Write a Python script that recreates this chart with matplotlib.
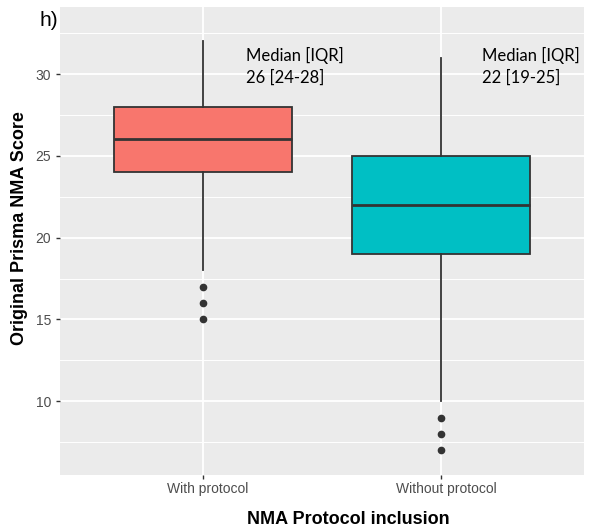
import matplotlib
matplotlib.use("Agg")
import matplotlib.pyplot as plt
import matplotlib.transforms as mtransforms
from matplotlib.ticker import MultipleLocator

# Summary statistics per group (Original Prisma NMA Score)
groups = ["With protocol", "Without protocol"]
medians = [26, 22]
q1 = [24, 19]
q3 = [28, 25]
whisker_low = [18, 10]
whisker_high = [32, 31]
outliers = [[17, 16, 15], [9, 8, 7]]
fill_colors = ["#F8766D", "#00BFC4"]
annotations = ["Median [IQR]\n26 [24-28]", "Median [IQR]\n22 [19-25]"]

fig = plt.figure(figsize=(5.94, 5.31), dpi=100)
fig.patch.set_facecolor("white")
ax = fig.add_axes([0.101, 0.1055, 0.882, 0.8815])
ax.set_facecolor("#EBEBEB")

stats = []
for i, g in enumerate(groups):
    stats.append(dict(label=g, med=medians[i], q1=q1[i], q3=q3[i],
                      whislo=whisker_low[i], whishi=whisker_high[i],
                      fliers=outliers[i]))

bp = ax.bxp(stats, positions=[1, 2], widths=0.75, patch_artist=True,
            showcaps=False, zorder=3,
            boxprops=dict(edgecolor="#333333", linewidth=1.3),
            medianprops=dict(color="#333333", linewidth=2.0),
            whiskerprops=dict(color="#333333", linewidth=1.3),
            flierprops=dict(marker="o", markerfacecolor="#333333",
                            markeredgecolor="#333333", markersize=4.5))
for patch, c in zip(bp["boxes"], fill_colors):
    patch.set_facecolor(c)

ax.set_xlim(0.4, 2.6)
ax.set_ylim(5.5, 34.1)
ax.yaxis.set_major_locator(MultipleLocator(5))
ax.yaxis.set_minor_locator(MultipleLocator(2.5))
ax.set_xticks([1, 2])
ax.set_xticklabels(groups)

ax.grid(which="major", color="white", linewidth=1.3, zorder=0)
ax.grid(which="minor", axis="y", color="white", linewidth=0.7, zorder=0)
ax.set_axisbelow(True)
for s in ax.spines.values():
    s.set_visible(False)

ax.tick_params(axis="both", which="major", colors="#333333", length=3,
               width=1.0, labelcolor="#4D4D4D", labelsize=10)
ax.tick_params(axis="x", which="major", pad=2)
ax.tick_params(axis="y", which="minor", length=0)
for lab in ax.get_xticklabels() + ax.get_yticklabels():
    lab.set_family("Liberation Sans")

# nudge the category labels slightly to the right
shift = mtransforms.ScaledTranslation(5 / 100, 0, fig.dpi_scale_trans)
for lab in ax.get_xticklabels():
    lab.set_transform(lab.get_transform() + shift)

fig.text(0.586, 0.021, "NMA Protocol inclusion", fontsize=13,
         fontweight="bold", family="Liberation Sans", ha="center",
         va="center")
fig.text(0.032, 0.571, "Original Prisma NMA Score", fontsize=13,
         fontweight="bold", family="Liberation Sans", ha="center",
         va="center", rotation=90)

for x, txt in zip([1.18, 2.17], annotations):
    ax.text(x, 31.65, txt, fontsize=12, family="Lato", color="black",
            va="top", ha="left", linespacing=1.45, zorder=4)

fig.text(0.067, 0.962, "h)", fontsize=15, family="Liberation Sans",
         ha="left", va="center")

fig.savefig("out.png", dpi=100)
